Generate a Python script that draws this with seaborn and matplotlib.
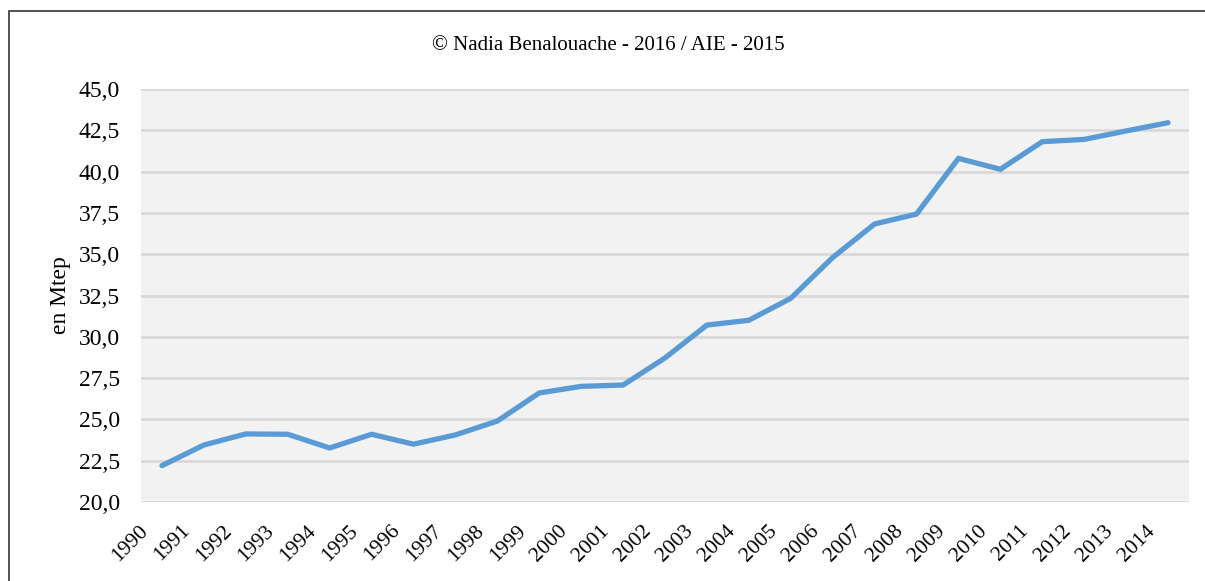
import matplotlib
matplotlib.use("Agg")
import matplotlib.pyplot as plt
import matplotlib.transforms as mtransforms
import seaborn as sns
import pandas as pd
from matplotlib.patches import Rectangle
from matplotlib.ticker import FuncFormatter, MultipleLocator

years = list(range(1990, 2015))
consumption = [22.2, 23.45, 24.12, 24.1, 23.27, 24.1, 23.5, 24.06, 24.9, 26.6,
               27.0, 27.08, 28.72, 30.71, 31.0, 32.33, 34.8, 36.83, 37.43, 40.8,
               40.14, 41.81, 41.95, 42.46, 42.96]
title_text = "© Nadia Benalouache - 2016 / AIE - 2015"
y_label = "en Mtep"

df = pd.DataFrame({"year": years, "value": consumption})

sns.set_theme(style="white")
plt.rcParams["font.family"] = ["Liberation Serif", "DejaVu Serif"]
plt.rcParams["text.color"] = "black"
plt.rcParams["xtick.color"] = "black"
plt.rcParams["ytick.color"] = "black"
plt.rcParams["axes.labelcolor"] = "black"

W, H = 1205, 581
fig = plt.figure(figsize=(W / 100, H / 100), dpi=100)
fig.patch.set_facecolor("white")

# plot area in pixel coords: left 141, right 1189, top 89, bottom 502
ax = fig.add_axes([141 / W, 1 - 502 / H, (1189 - 141) / W, (502 - 89) / H])
ax.set_facecolor("#f2f2f2")

sns.lineplot(data=df, x="year", y="value", ax=ax, color="#5b9bd5",
             linewidth=3.8, solid_capstyle="round", solid_joinstyle="miter")

ax.set_xlim(1989.5, 2014.5)
ax.set_ylim(20, 45)
ax.yaxis.set_major_locator(MultipleLocator(2.5))
ax.yaxis.set_major_formatter(FuncFormatter(lambda v, p: f"{v:.1f}".replace(".", ",")))
ax.set_xticks(years)
ax.set_xticklabels([str(y) for y in years], rotation=45, ha="right",
                   rotation_mode="anchor", fontsize=15.5)
ax.tick_params(axis="y", labelsize=17, length=0, pad=15)
ax.tick_params(axis="x", length=0, pad=6)

# shift the rotated year labels down-left so their ends sit below each point
shift = mtransforms.ScaledTranslation(-23 / 100, -11 / 100, fig.dpi_scale_trans)
for lbl in ax.get_xticklabels():
    lbl.set_transform(lbl.get_transform() + shift)

ax.grid(axis="y", color="#d9d9d9", linewidth=2)
ax.grid(axis="x", visible=False)
ax.set_axisbelow(True)
for s in ax.spines.values():
    s.set_visible(False)

ax.set_xlabel("")
ax.set_ylabel(y_label, fontsize=17, labelpad=6)

fig.text(0.5 * (432 + 785) / W, 1 - 46 / H, title_text, ha="center", va="center",
         fontsize=15)

# outer chart frame
fig.patches.append(Rectangle((8.5 / W, -0.1), 1.2, 1 - 11 / H + 0.1,
                             transform=fig.transFigure, fill=False,
                             edgecolor="#333333", linewidth=1.2))

fig.savefig("out.png", dpi=100)
